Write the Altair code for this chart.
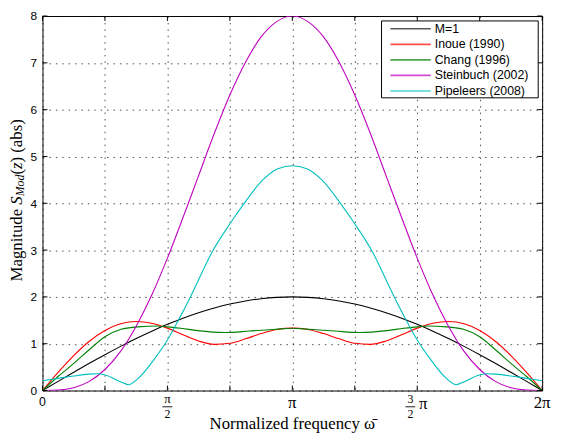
import altair as alt
import pandas as pd

# ---------------- data ----------------
series_names = ["M=1", "Inoue (1990)", "Chang (1996)", "Steinbuch (2002)", "Pipeleers (2008)"]
series_colors = ["#000000", "#ff0000", "#008000", "#bf00bf", "#00bfbf"]

omega_grid = [0.000, 0.196, 0.393, 0.589, 0.785, 0.982, 1.178, 1.374, 1.571, 1.767, 1.963,
              2.160, 2.356, 2.553, 2.749, 2.945, 3.142, 3.338, 3.534, 3.731, 3.927, 4.123,
              4.320, 4.516, 4.712, 4.909, 5.105, 5.301, 5.498, 5.694, 5.890, 6.087, 6.283]

m1_vals = [0.000, 0.196, 0.390, 0.581, 0.765, 0.943, 1.111, 1.268, 1.414, 1.546, 1.663,
           1.764, 1.848, 1.914, 1.962, 1.990, 2.000, 1.990, 1.962, 1.914, 1.848, 1.764,
           1.663, 1.546, 1.414, 1.268, 1.111, 0.943, 0.765, 0.581, 0.390, 0.196, 0.000]

inoue_vals = [0.000, 0.388, 0.747, 1.053, 1.284, 1.426, 1.476, 1.439, 1.333, 1.190, 1.057,
              0.986, 1.009, 1.104, 1.216, 1.302, 1.333, 1.302, 1.216, 1.104, 1.009, 0.986,
              1.057, 1.190, 1.333, 1.439, 1.476, 1.426, 1.284, 1.053, 0.747, 0.388, 0.000]

steinbuch_vals = [0.000, 0.008, 0.059, 0.195, 0.449, 0.836, 1.375, 2.039, 2.828, 3.695, 4.591,
                  5.489, 6.311, 7.012, 7.553, 7.881, 8.000, 7.881, 7.553, 7.012, 6.311, 5.489,
                  4.591, 3.695, 2.828, 2.039, 1.375, 0.836, 0.449, 0.195, 0.059, 0.008, 0.000]

chang_omega = [0.000, 0.196, 0.393, 0.580, 0.785, 0.990, 1.200, 1.450, 1.571, 1.740, 1.950,
               2.300, 2.600, 2.930, 3.142, 3.353, 3.683, 3.983, 4.333, 4.543, 4.712, 4.833,
               5.083, 5.293, 5.498, 5.703, 5.890, 6.087, 6.283]
chang_vals = [0.00, 0.30, 0.58, 0.86, 1.15, 1.31, 1.36, 1.38, 1.36, 1.33, 1.28,
              1.24, 1.27, 1.31, 1.33, 1.31, 1.27, 1.24, 1.28, 1.33, 1.36, 1.38,
              1.36, 1.31, 1.15, 0.86, 0.58, 0.30, 0.00]

pip_omega = [0.000, 0.200, 0.390, 0.580, 0.700, 0.790, 0.980, 1.080, 1.240, 1.410, 1.571,
             1.740, 1.860, 1.950, 2.130, 2.380, 2.520, 2.770, 2.960, 3.142, 3.323, 3.513,
             3.763, 3.903, 4.153, 4.333, 4.423, 4.543, 4.712, 4.873, 5.043, 5.203, 5.303,
             5.493, 5.583, 5.703, 5.893, 6.083, 6.283]
pip_vals = [0.21, 0.26, 0.31, 0.35, 0.36, 0.33, 0.19, 0.125, 0.32, 0.68, 1.08,
            1.60, 2.00, 2.32, 2.95, 3.62, 3.96, 4.50, 4.74, 4.80, 4.74, 4.50,
            3.96, 3.62, 2.95, 2.32, 2.00, 1.60, 1.08, 0.68, 0.32, 0.125, 0.19,
            0.33, 0.36, 0.35, 0.31, 0.26, 0.21]

tick_x = [0.0, 0.7854, 1.5708, 2.3562, 3.1416, 3.9270, 4.7124, 5.4978, 6.2832]
tick_y = [0, 1, 2, 3, 4, 5, 6, 7, 8]

# ---------------- build table ----------------
rows = []
for name, xs, ys in [
    ("M=1", omega_grid, m1_vals),
    ("Inoue (1990)", omega_grid, inoue_vals),
    ("Chang (1996)", chang_omega, chang_vals),
    ("Steinbuch (2002)", omega_grid, steinbuch_vals),
    ("Pipeleers (2008)", pip_omega, pip_vals),
]:
    for x, y in zip(xs, ys):
        rows.append({"series": name, "omega": x, "mag": y})
df = pd.DataFrame(rows)

W, H = 507, 380
xscale = alt.Scale(domain=[0, 6.2832], nice=False, zero=False)
yscale = alt.Scale(domain=[0, 8], nice=False)
SERIF = "Liberation Serif"
SANS = "Liberation Sans"

grid_kw = dict(grid=True, gridDash=[1.5, 5], gridColor="#000000", gridOpacity=0.7, gridWidth=1)

lines = alt.Chart(df).mark_line(strokeWidth=1.1, interpolate="monotone", clip=True).encode(
    x=alt.X("omega:Q", scale=xscale,
            axis=alt.Axis(values=tick_x, labels=False, ticks=False, domain=False, title=None, **grid_kw)),
    y=alt.Y("mag:Q", scale=yscale,
            axis=alt.Axis(values=tick_y, ticks=False, domain=False, title=None,
                          labelFont=SANS, labelFontSize=12, labelColor="#000000",
                          labelPadding=6, **grid_kw)),
    color=alt.Color("series:N", sort=series_names,
                    scale=alt.Scale(domain=series_names, range=series_colors), legend=None),
)

tx_df = pd.DataFrame({"omega": tick_x})
ty_df = pd.DataFrame({"mag": tick_y})
rule_kw = dict(color="#000000", strokeWidth=1)
bottom_ticks = alt.Chart(tx_df).mark_rule(**rule_kw).encode(
    x=alt.X("omega:Q", scale=xscale), y=alt.value(H), y2=alt.value(H - 5))
top_ticks = alt.Chart(tx_df).mark_rule(**rule_kw).encode(
    x=alt.X("omega:Q", scale=xscale), y=alt.value(0), y2=alt.value(5))
left_ticks = alt.Chart(ty_df).mark_rule(**rule_kw).encode(
    y=alt.Y("mag:Q", scale=yscale), x=alt.value(0), x2=alt.value(5))
right_ticks = alt.Chart(ty_df).mark_rule(**rule_kw).encode(
    y=alt.Y("mag:Q", scale=yscale), x=alt.value(W), x2=alt.value(W - 5))


def xtext(xs, texts, ypix, font, size, dx=0, style="normal"):
    d = pd.DataFrame({"omega": xs, "t": texts})
    return alt.Chart(d).mark_text(font=font, fontSize=size, dx=dx, fontStyle=style,
                                  align="center", baseline="middle", color="#000000").encode(
        x=alt.X("omega:Q", scale=xscale), y=alt.value(ypix), text="t:N")


def frac_bar(xval, ypix, dx=0):
    d = pd.DataFrame({"omega": [xval]})
    return alt.Chart(d).mark_rule(color="#000000", strokeWidth=0.9,
                                  xOffset=dx - 5, x2Offset=dx + 5).encode(
        x=alt.X("omega:Q", scale=xscale), x2="omega:Q", y=alt.value(ypix))


labels = [
    xtext([0.0], ["0"], H + 12, SANS, 12.5),
    xtext([3.1416, 6.2832], ["π", "2π"], H + 13, SERIF, 17),
    # pi / 2
    xtext([1.5708], ["π"], H + 9, SERIF, 13),
    frac_bar(1.5708, H + 16.5),
    xtext([1.5708], ["2"], H + 24, SERIF, 12),
    # 3/2 pi
    xtext([4.7124], ["3"], H + 9, SERIF, 12, dx=-7),
    frac_bar(4.7124, H + 16.5, dx=-7),
    xtext([4.7124], ["2"], H + 24, SERIF, 12, dx=-7),
    xtext([4.7124], ["π"], H + 14, SERIF, 17, dx=6),
    # x title
    xtext([3.1416], ["Normalized frequency ω\u0304"], H + 34, SERIF, 17),
]

# y title pieces (rotated)
yt_pieces = [
    ("Magnitude ", 269.3, -26, 17, "normal"),
    ("S", 191.4, -26, 17, "italic"),
    ("Mod", 182.9, -22.5, 12, "italic"),
    ("(", 160.9, -26, 17, "normal"),
    ("z", 155.2, -26, 17, "italic"),
    (") (abs)", 148.6, -26, 17, "normal"),
]
ytitle = []
for txt, ypos, xpos, size, style in yt_pieces:
    d = pd.DataFrame({"t": [txt]})
    ytitle.append(alt.Chart(d).mark_text(font=SERIF, fontSize=size, fontStyle=style, angle=270,
                                         align="left", baseline="middle", color="#000000").encode(
        x=alt.value(xpos), y=alt.value(ypos), text="t:N"))

# legend box (drawn by hand so the rows stay compact)
legend_layers = [
    alt.Chart(pd.DataFrame({"k": [0]})).mark_rect(fill="#ffffff", stroke="#000000", strokeWidth=1).encode(
        x=alt.value(344), x2=alt.value(503), y=alt.value(5), y2=alt.value(83))
]
for i, (name, col) in enumerate(zip(series_names, series_colors)):
    yy = 13 + 15.75 * i
    d = pd.DataFrame({"t": [name]})
    legend_layers.append(alt.Chart(d).mark_rule(color=col, strokeWidth=1.0 if i == 0 else 1.6,
                                                opacity=1.0 if i == 0 else 0.7).encode(
        x=alt.value(353), x2=alt.value(394), y=alt.value(yy)))
    legend_layers.append(alt.Chart(d).mark_text(font=SANS, fontSize=12.5, align="left",
                                                baseline="middle", color="#000000").encode(
        x=alt.value(398), y=alt.value(yy), text="t:N"))

chart = alt.layer(lines, bottom_ticks, top_ticks, left_ticks, right_ticks,
                  *labels, *ytitle, *legend_layers).properties(
    width=W, height=H,
    padding={"left": 35, "top": 5, "right": 11, "bottom": 43},
    autosize=alt.AutoSizeParams(type="none"),
    background="#ffffff",
).configure_view(stroke="#000000", strokeWidth=1)

chart.save("out.html", embed_options={"renderer": "svg", "actions": False})
